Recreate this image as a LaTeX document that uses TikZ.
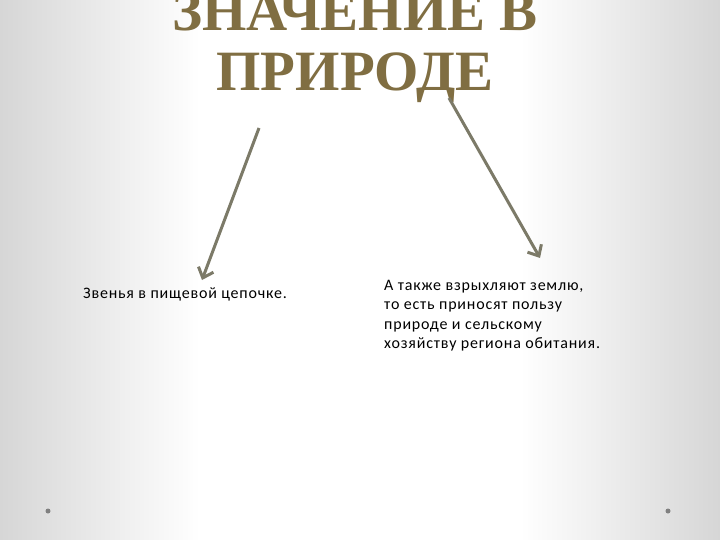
\documentclass[tikz,border=0pt]{standalone}
\usepackage{fontspec}
\setmainfont{Carlito}[LetterSpace=5]
\newfontfamily\titlefont{Liberation Serif}
\usetikzlibrary{arrows.meta}
\definecolor{gold}{RGB}{128,110,66}
\definecolor{arrowgray}{RGB}{124,122,104}
\definecolor{edgegray}{RGB}{214,214,214}

\begin{document}
\begin{tikzpicture}[x=1pt,y=-1pt,
  heading/.style={font=\titlefont\bfseries\fontsize{57}{60}\selectfont, text=gold, align=center, inner sep=0},
  bodytext/.style={font=\fontsize{16}{19.5}\selectfont, align=left, inner sep=0, anchor=north west},
  pointer/.style={draw=arrowgray, line width=3pt, -{Straight Barb[length=9pt,width=16pt,line width=3pt]}}]
\useasboundingbox (0,0) rectangle (720,540);
% background
\fill[white] (0,0) rectangle (720,540);
\shade[left color=edgegray, right color=white] (0,0) rectangle (200,540);
\shade[left color=white, right color=edgegray] (520,0) rectangle (720,540);
\node[heading] (title) at (355,48) {ЗНАЧЕНИЕ В\\ПРИРОДЕ};
\node[bodytext] (food) at (83,287) {Звенья в пищевой цепочке.};
\node[bodytext] (soil) at (384,280) {А также взрыхляют землю,\\то есть приносят пользу\\природе и сельскому\\хозяйству региона обитания.};
\coordinate (s1) at (259,128);
\coordinate (e1) at (202,280);
\coordinate (s2) at (449,98);
\coordinate (e2) at (540,258);
\draw[pointer] (s1) -- (e1);
\draw[pointer] (s2) -- (e2);
\fill[gray] (48,511) circle (2.5);
\fill[gray] (668,511) circle (2.5);
\end{tikzpicture}
\end{document}
